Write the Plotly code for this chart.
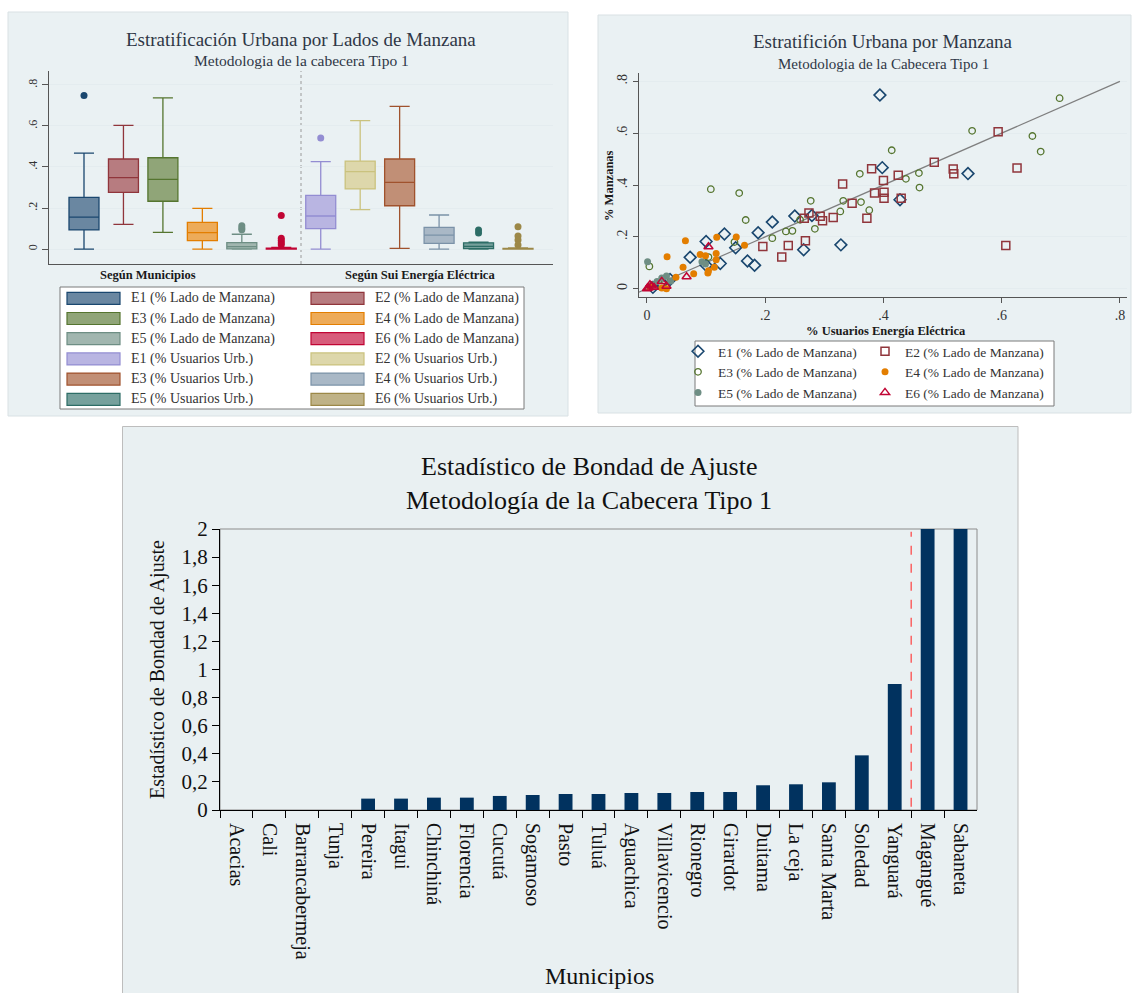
import plotly.graph_objects as go

W, H = 1138, 993
SERIF = "Liberation Serif"
TITLE_COLOR = "#2f3746"
TEXT_COLOR = "#333333"


def px(x):
    return x / W


def py(y):
    return 1 - y / H


def rgb(c):
    return "rgb({},{},{})".format(*c)


def tint(c, k):
    return "rgb({},{},{})".format(*[round(v * k + 255 * (1 - k)) for v in c])


# ---------------- Box plots: stratum shares ----------------
box_labels = [
    "E1 (% Lado de Manzana)", "E2 (% Lado de Manzana)", "E3 (% Lado de Manzana)",
    "E4 (% Lado de Manzana)", "E5 (% Lado de Manzana)", "E6 (% Lado de Manzana)",
    "E1 (% Usuarios Urb.)", "E2 (% Usuarios Urb.)", "E3 (% Usuarios Urb.)",
    "E4 (% Usuarios Urb.)", "E5 (% Usuarios Urb.)", "E6 (% Usuarios Urb.)",
]
box_lower = [0.000, 0.120, 0.081, 0.000, 0.000, 0.000, 0.000, 0.192, 0.003, 0.000, 0.000, 0.000]
box_q1 = [0.093, 0.276, 0.233, 0.041, 0.001, 0.000, 0.099, 0.293, 0.211, 0.028, 0.002, 0.000]
box_median = [0.156, 0.348, 0.340, 0.080, 0.012, 0.001, 0.161, 0.377, 0.325, 0.068, 0.013, 0.001]
box_q3 = [0.252, 0.439, 0.445, 0.130, 0.031, 0.004, 0.262, 0.429, 0.439, 0.106, 0.030, 0.003]
box_upper = [0.468, 0.603, 0.737, 0.198, 0.072, 0.008, 0.426, 0.626, 0.696, 0.166, 0.034, 0.006]
box_outliers = [
    [0.748], [], [], [], [0.094, 0.102, 0.113], [0.163, 0.052, 0.041, 0.030, 0.021],
    [0.541], [], [], [], [0.078, 0.093], [0.109, 0.063, 0.044, 0.020],
]
group_labels = ["Según Municipios", "Según Sui Energía Eléctrica"]
box_ticks = [0, 0.2, 0.4, 0.6, 0.8]
box_ticktext = ["0", ".2", ".4", ".6", ".8"]

# Stata s2color palette
s2color = [
    (26, 71, 111), (144, 53, 59), (85, 117, 47), (227, 126, 0), (110, 142, 132), (193, 5, 52),
    (147, 141, 210), (202, 194, 126), (160, 82, 45), (123, 146, 168), (45, 109, 102), (156, 136, 71),
]

# ---------------- Scatter: % manzanas vs % usuarios ----------------
scatter_names = [
    "E1 (% Lado de Manzana)", "E2 (% Lado de Manzana)", "E3 (% Lado de Manzana)",
    "E4 (% Lado de Manzana)", "E5 (% Lado de Manzana)", "E6 (% Lado de Manzana)",
]
e1_x = [0.394, 0.398, 0.543, 0.428, 0.250, 0.279, 0.212, 0.188, 0.131, 0.100, 0.150, 0.265,
        0.328, 0.170, 0.182, 0.073, 0.124, 0.100, 0.039, 0.025, 0.010]
e1_y = [0.747, 0.467, 0.444, 0.343, 0.280, 0.282, 0.257, 0.216, 0.211, 0.182, 0.158, 0.150,
        0.169, 0.107, 0.090, 0.121, 0.097, 0.090, 0.035, 0.020, 0.005]
e2_x = [0.594, 0.486, 0.518, 0.519, 0.626, 0.380, 0.400, 0.425, 0.401, 0.401, 0.430, 0.331,
        0.385, 0.347, 0.372, 0.315, 0.274, 0.266, 0.293, 0.297, 0.268, 0.196, 0.239, 0.228, 0.607]
e2_y = [0.605, 0.488, 0.462, 0.443, 0.466, 0.463, 0.417, 0.438, 0.372, 0.349, 0.349, 0.404,
        0.369, 0.330, 0.272, 0.275, 0.292, 0.272, 0.279, 0.262, 0.185, 0.163, 0.167, 0.122, 0.167]
e3_x = [0.698, 0.550, 0.652, 0.666, 0.414, 0.360, 0.438, 0.460, 0.461, 0.277, 0.332, 0.362,
        0.376, 0.327, 0.259, 0.284, 0.235, 0.246, 0.212, 0.108, 0.156, 0.167, 0.148, 0.104,
        0.004, 0.030]
e3_y = [0.735, 0.609, 0.589, 0.529, 0.534, 0.443, 0.424, 0.446, 0.390, 0.339, 0.339, 0.334,
        0.303, 0.298, 0.266, 0.231, 0.221, 0.223, 0.195, 0.384, 0.369, 0.265, 0.180, 0.122,
        0.086, 0.030]
e4_x = [0.118, 0.151, 0.065, 0.165, 0.034, 0.090, 0.099, 0.117, 0.117, 0.061, 0.114, 0.103,
        0.104, 0.079, 0.049, 0.025, 0.033, 0.005]
e4_y = [0.198, 0.199, 0.185, 0.168, 0.123, 0.132, 0.127, 0.136, 0.112, 0.083, 0.083, 0.060,
        0.069, 0.058, 0.044, 0.003, 0.000, 0.005]
e5_x = [0.001, 0.093, 0.099, 0.033, 0.025, 0.017, 0.005, 0.010, 0.040]
e5_y = [0.104, 0.104, 0.095, 0.049, 0.041, 0.028, 0.010, 0.015, 0.030]
e6_x = [0.104, 0.067, 0.025, 0.033, 0.003, 0.008, 0.012, 0.005, 0.000]
e6_y = [0.162, 0.046, 0.028, 0.009, 0.003, 0.010, 0.005, 0.015, 0.000]
scatter_x = [e1_x, e2_x, e3_x, e4_x, e5_x, e6_x]
scatter_y = [e1_y, e2_y, e3_y, e4_y, e5_y, e6_y]
equality_line = [-0.03, 0.8]
scatter_ticks = [0, 0.2, 0.4, 0.6, 0.8]
scatter_ticktext = ["0", ".2", ".4", ".6", ".8"]

# ---------------- Bars: goodness-of-fit statistic ----------------
municipios = [
    "Acacias", "Cali", "Barrancabermeja", "Tunja", "Pereira", "Itagui", "Chinchiná", "Florencia",
    "Cucutá", "Sogamoso", "Pasto", "Tuluá", "Aguachica", "Villavicencio", "Rionegro", "Girardot",
    "Duitama", "La ceja", "Santa Marta", "Soledad", "Yanguará", "Magangué", "Sabaneta",
]
bondad = [0, 0, 0, 0, 0.081, 0.081, 0.088, 0.088, 0.100, 0.107, 0.114, 0.114, 0.121, 0.121,
          0.128, 0.128, 0.176, 0.183, 0.197, 0.389, 0.897, 2.02, 2.02]
bar_ticks = [0, 0.2, 0.4, 0.6, 0.8, 1.0, 1.2, 1.4, 1.6, 1.8, 2.0]
bar_ticktext = ["0", "0,2", "0,4", "0,6", "0,8", "1", "1,2", "1,4", "1,6", "1,8", "2"]

fig = go.Figure()

# ---- box traces (positions 1..12 on a numeric axis) ----
positions = list(range(1, 13))
for i in range(12):
    c = s2color[i]
    fig.add_trace(go.Box(
        x=[positions[i]], q1=[box_q1[i]], median=[box_median[i]], q3=[box_q3[i]],
        lowerfence=[box_lower[i]], upperfence=[box_upper[i]], orientation="v",
        width=0.76, whiskerwidth=0.67, fillcolor=tint(c, 0.65),
        line=dict(color=rgb(c), width=1.3), boxpoints=False, showlegend=False,
        name=box_labels[i], xaxis="x", yaxis="y", hoverinfo="skip",
    ))
    if box_outliers[i]:
        fig.add_trace(go.Scatter(
            x=[positions[i]] * len(box_outliers[i]), y=box_outliers[i], mode="markers",
            marker=dict(color=rgb(c), size=7), showlegend=False, xaxis="x", yaxis="y",
            hoverinfo="skip",
        ))

# ---- scatter traces ----
fig.add_trace(go.Scatter(
    x=equality_line, y=equality_line, mode="lines", line=dict(color="#7f7f7f", width=1.2),
    showlegend=False, xaxis="x2", yaxis="y2", hoverinfo="skip",
))
sc_style = [
    dict(symbol="diamond-open", size=9, line=dict(width=1.6)),
    dict(symbol="square-open", size=8, line=dict(width=1.5)),
    dict(symbol="circle-open", size=6.5, line=dict(width=1.3)),
    dict(symbol="circle", size=7),
    dict(symbol="circle", size=7),
    dict(symbol="triangle-up-open", size=8, line=dict(width=1.5)),
]
sc_legend = ["legend2", "legend3", "legend2", "legend3", "legend2", "legend3"]
for k in [0, 2, 4, 1, 3, 5]:
    m = dict(sc_style[k])
    m["color"] = rgb(s2color[k])
    fig.add_trace(go.Scatter(
        x=scatter_x[k], y=scatter_y[k], mode="markers", marker=m, name=scatter_names[k],
        legend=sc_legend[k], xaxis="x2", yaxis="y2", hoverinfo="skip",
    ))

# ---- bar trace ----
fig.add_trace(go.Bar(
    x=municipios, y=bondad, marker=dict(color="#01325f", line=dict(width=0)),
    width=0.42, cliponaxis=False, showlegend=False, xaxis="x3", yaxis="y3", hoverinfo="skip",
))

shapes = []
annotations = []

# panel backgrounds
panel_bg = "#eaf1f3"
shapes.append(dict(type="rect", xref="paper", yref="paper", x0=px(8), x1=px(568), y0=py(416), y1=py(12),
                   fillcolor=panel_bg, line=dict(color="#d9e1e4", width=1), layer="below"))
shapes.append(dict(type="rect", xref="paper", yref="paper", x0=px(598), x1=px(1131), y0=py(413), y1=py(15),
                   fillcolor=panel_bg, line=dict(color="#d9e1e4", width=1), layer="below"))
shapes.append(dict(type="rect", xref="paper", yref="paper", x0=px(122.5), x1=px(1018), y0=py(995), y1=py(426.5),
                   fillcolor="#e9f0f2", line=dict(color="#bdbdbd", width=1), layer="below"))

# box panel: group divider
shapes.append(dict(type="line", xref="x", yref="y domain", x0=6.5, x1=6.5, y0=0, y1=1,
                   line=dict(color="#9a9a9a", width=1, dash="dot"), layer="below"))

# box panel legend
shapes.append(dict(type="rect", xref="paper", yref="paper", x0=px(60), x1=px(524), y0=py(409), y1=py(287),
                   fillcolor="white", line=dict(color="#7a7a7a", width=1), layer="below"))
for i in range(12):
    row, col = i // 2, i % 2
    yc = 298.3 + row * 20.2
    sx = [67, 311][col]
    tx = [129, 373][col]
    c = s2color[i]
    shapes.append(dict(type="rect", xref="paper", yref="paper", x0=px(sx), x1=px(sx + 53),
                       y0=py(yc + 6), y1=py(yc - 6), fillcolor=tint(c, 0.65),
                       line=dict(color=rgb(c), width=1.2)))
    annotations.append(dict(xref="paper", yref="paper", x=px(tx), y=py(yc), text=box_labels[i],
                            showarrow=False, xanchor="left", yanchor="middle",
                            font=dict(family=SERIF, size=14, color=TEXT_COLOR)))

# scatter legend frame
shapes.append(dict(type="rect", xref="paper", yref="paper", x0=px(695), x1=px(1054), y0=py(406), y1=py(341),
                   fillcolor="white", line=dict(color="#7a7a7a", width=1), layer="below"))

# bar panel: plot frame and separator
shapes.append(dict(type="rect", xref="x3 domain", yref="y3 domain", x0=0, x1=1, y0=0, y1=1,
                   line=dict(color="#8c8c8c", width=1), layer="below"))
shapes.append(dict(type="line", xref="x3", yref="y3 domain", x0=20.5, x1=20.5, y0=0.012, y1=0.99,
                   line=dict(color="#ff4040", width=1.2, dash="dash")))


def text(x, y, s, size, color=TEXT_COLOR, angle=0, anchor="center"):
    annotations.append(dict(xref="paper", yref="paper", x=px(x), y=py(y), text=s, showarrow=False,
                            xanchor=anchor, yanchor="middle", textangle=angle,
                            font=dict(family=SERIF, size=size, color=color)))


# box panel titles and group labels
text(301, 39, "Estratificación Urbana por Lados de Manzana", 19, TITLE_COLOR)
text(301, 61, "Metodologia de la cabecera Tipo 1", 15.5, TITLE_COLOR)
text(148, 275, "<b>" + group_labels[0] + "</b>", 12.5, "#1a1a1a")
text(420, 275, "<b>" + group_labels[1] + "</b>", 12.5, "#1a1a1a")

# scatter titles
text(883, 42, "Estratifición Urbana por Manzana", 19, TITLE_COLOR)
text(883, 64, "Metodologia de la Cabecera Tipo 1", 15, TITLE_COLOR)
text(886, 331, "<b>% Usuarios Energía Eléctrica</b>", 12.5, "#1a1a1a")
text(609, 186, "<b>% Manzanas</b>", 12.5, "#1a1a1a", angle=-90)

# bar titles
text(589, 466, "Estadístico de Bondad de Ajuste", 26, "#111111")
text(589, 500, "Metodología de la Cabecera Tipo 1", 26, "#111111")
text(157, 670, "Estadístico de Bondad de Ajuste", 20, "#111111", angle=-90)
text(599, 976, "Municipios", 24, "#111111")

axis_line = "#555555"
grid = "#e4ecef"

fig.update_layout(
    width=W, height=H, autosize=False, margin=dict(l=0, r=0, t=0, b=0, pad=0),
    paper_bgcolor="white", plot_bgcolor="white", shapes=shapes, annotations=annotations,
    font=dict(family=SERIF, color=TEXT_COLOR),
    xaxis=dict(domain=[px(49), px(553)], range=[0.113, 12.887], anchor="y", showticklabels=False,
               ticks="", showgrid=False, zeroline=False, showline=True, linecolor=axis_line,
               linewidth=1, fixedrange=True, automargin=False),
    yaxis=dict(domain=[py(264), py(71)], range=[-0.073, 0.868], anchor="x", tickvals=box_ticks,
               ticktext=box_ticktext, tickangle=-90, ticks="outside", ticklen=6, tickcolor=axis_line,
               showline=True, linecolor=axis_line, linewidth=1, showgrid=True, gridcolor=grid,
               zeroline=False, automargin=False,
               tickfont=dict(family=SERIF, size=12, color=TEXT_COLOR)),
    xaxis2=dict(domain=[px(639), px(1127)], range=[-0.0135, 0.812], anchor="y2", tickvals=scatter_ticks,
                ticktext=scatter_ticktext, ticks="outside", ticklen=5, tickcolor=axis_line,
                showline=True, linecolor=axis_line, linewidth=1, showgrid=False, zeroline=False,
                automargin=False, tickfont=dict(family=SERIF, size=14, color=TEXT_COLOR)),
    yaxis2=dict(domain=[py(296.7), py(73.3)], range=[-0.031, 0.831], anchor="x2", tickvals=scatter_ticks,
                ticktext=scatter_ticktext, tickangle=-90, ticks="outside", ticklen=5, tickcolor=axis_line,
                showline=True, linecolor=axis_line, linewidth=1, showgrid=True, gridcolor=grid,
                zeroline=False, automargin=False,
                tickfont=dict(family=SERIF, size=14, color=TEXT_COLOR)),
    xaxis3=dict(domain=[px(220), px(977)], type="category", categoryorder="array",
                categoryarray=municipios, range=[-0.5, 22.5], anchor="y3", tickangle=90,
                ticks="outside", ticklen=7, tickson="boundaries", tickcolor="black",
                showline=True, linecolor="black", linewidth=1, showgrid=False, zeroline=False,
                ticklabelstandoff=8, automargin=False,
                tickfont=dict(family=SERIF, size=20, color="#111111")),
    yaxis3=dict(domain=[py(810), py(529)], range=[0, 2], anchor="x3", tickvals=bar_ticks,
                ticktext=bar_ticktext, ticks="outside", ticklen=7, tickcolor="black",
                showline=True, linecolor="black", linewidth=1, showgrid=False, zeroline=False,
                automargin=False, tickfont=dict(family=SERIF, size=21, color="#111111")),
    legend2=dict(x=px(678), y=py(336), xanchor="left", yanchor="top", bgcolor="rgba(0,0,0,0)",
                 borderwidth=0, font=dict(family=SERIF, size=13.5, color=TEXT_COLOR), orientation="v"),
    legend3=dict(x=px(865), y=py(336), xanchor="left", yanchor="top", bgcolor="rgba(0,0,0,0)",
                 borderwidth=0, font=dict(family=SERIF, size=13.5, color=TEXT_COLOR), orientation="v"),
    showlegend=True,
    bargap=0.58,
)

fig.write_html("out.html")
